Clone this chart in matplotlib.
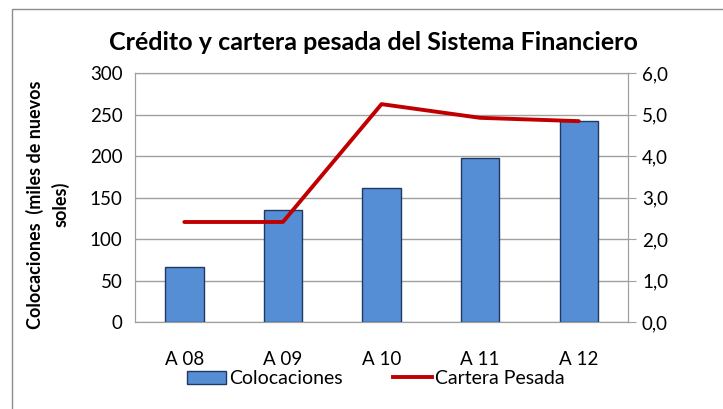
import numpy as np
import matplotlib.pyplot as plt
from matplotlib.patches import Patch, Rectangle
from matplotlib.lines import Line2D

plt.rcParams['font.family'] = ['Lato', 'DejaVu Sans']

# datos
anios = ['A 08', 'A 09', 'A 10', 'A 11', 'A 12']
colocaciones = [66, 135, 161, 198, 242]
cartera_pesada = [2.41, 2.41, 5.25, 4.92, 4.84]

grid_col = '#A0A0A0'
bar_col = '#558ED5'
line_col = '#C00000'

fig = plt.figure(figsize=(7.23, 4.09), dpi=100)
# borde exterior del grafico
fig.patches.append(Rectangle((12 / 723, -0.05), 1.0, 1 - 9 / 409 + 0.05,
                             transform=fig.transFigure, fill=False,
                             edgecolor='#8C8C8C', linewidth=1))

ax = fig.add_axes([0.1867, 0.2127, 0.682, 0.6088])
x = np.arange(len(anios))
ax.bar(x, colocaciones, width=0.39, color=bar_col, edgecolor='#1F3864',
       linewidth=1, zorder=3)
ax.set_xlim(-0.5, len(anios) - 0.5)
ax.set_ylim(0, 300)
ax.set_yticks(range(0, 301, 50))
ax.set_xticks(x)
ax.set_xticklabels(anios)
ax.grid(axis='y', color=grid_col, linewidth=1, zorder=0)
ax.tick_params(axis='y', length=0, pad=9, labelsize=13.5)
ax.tick_params(axis='x', length=0, pad=21, labelsize=13.5)
for s in ax.spines.values():
    s.set_color(grid_col)

fig.text(0.066, 0.5, 'Colocaciones  (miles de nuevos\nsoles)', rotation=90,
         ha='center', va='center', multialignment='center', fontsize=13,
         fontweight='bold', linespacing=1.55)

ax2 = ax.twinx()
ax2.plot(x, cartera_pesada, color=line_col, linewidth=2.8,
         solid_capstyle='round', zorder=4)
ax2.set_ylim(0, 6)
ax2.set_yticks(np.arange(0, 6.01, 1))
ax2.set_yticklabels([f'{v:.1f}'.replace('.', ',') for v in np.arange(0, 6.01, 1)])
ax2.tick_params(axis='y', length=6, color=grid_col, pad=4, labelsize=13.5)
for s in ax2.spines.values():
    s.set_color(grid_col)

fig.text(0.516, 0.897, 'Crédito y cartera pesada del Sistema Financiero',
         ha='center', va='center', fontsize=18, fontweight='bold')

handles = [Patch(facecolor=bar_col, edgecolor='#1F3864', linewidth=1),
           Line2D([], [], color=line_col, linewidth=2.8)]
fig.legend(handles, ['Colocaciones', 'Cartera Pesada'], loc='center',
           bbox_to_anchor=(0.52, 0.074), ncol=2, frameon=False, fontsize=14,
           handlelength=2.0, handletextpad=0.15, columnspacing=2.6,
           handleheight=0.7, borderpad=0)

fig.savefig('out.png', dpi=100)
